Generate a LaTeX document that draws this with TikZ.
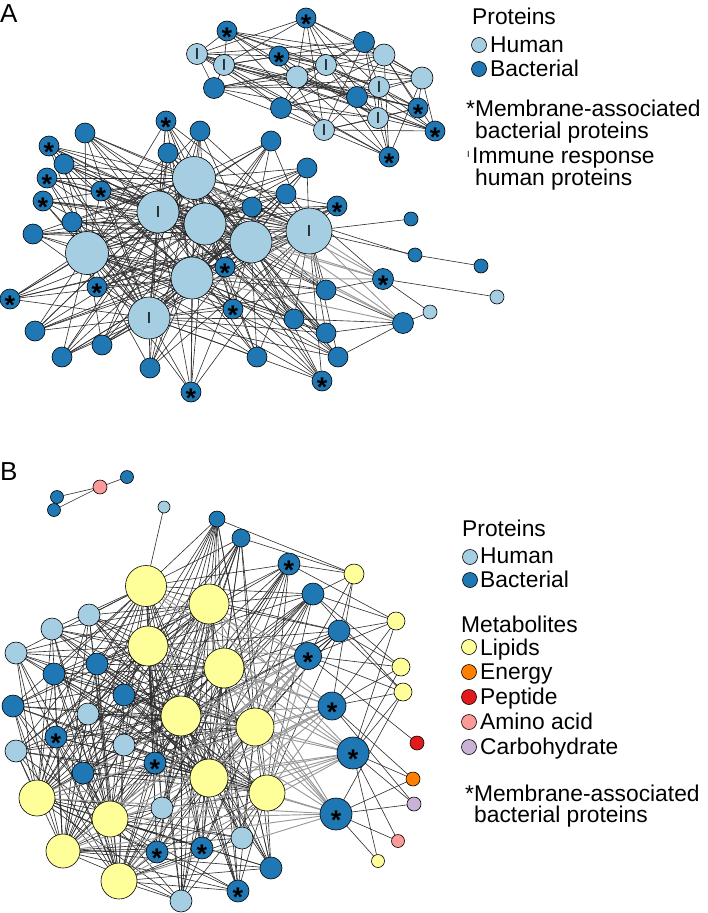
\documentclass[tikz,border=0pt]{standalone}
\usepackage{fontspec}
\setmainfont{Liberation Sans}
\pgfdeclarelayer{edges}
\pgfsetlayers{edges,main}
\definecolor{humc}{HTML}{A6CEE3}
\definecolor{bacc}{HTML}{1F78B4}
\definecolor{yelc}{HTML}{FFFF99}
\definecolor{orgc}{HTML}{FF7F00}
\definecolor{redc}{HTML}{E31A1C}
\definecolor{pnkc}{HTML}{FB9A99}
\definecolor{purc}{HTML}{CAB2D6}
\begin{document}
\begin{tikzpicture}[x=1pt,y=-1pt,
 nd/.style={circle,draw=black,line width=0.6pt,inner sep=0pt,outer sep=0pt},
 hum/.style={nd,fill=humc}, bac/.style={nd,fill=bacc},
 bmem/.style={bac,label={[astk]center:*}},
 himm/.style={hum,label={[imk]center:I}},
 yel/.style={nd,fill=yelc}, org/.style={nd,fill=orgc}, mred/.style={nd,fill=redc},
 pnk/.style={nd,fill=pnkc}, pur/.style={nd,fill=purc},
 astk/.style={font=\fontsize{27}{27}\bfseries, inner sep=0pt, yshift=-5.8pt},
 imk/.style={font=\fontsize{16}{16}\selectfont, inner sep=0pt},
 ed/.style={draw=black!82,line width=0.62pt},
 edg/.style={draw=black!40,line width=0.95pt},
 txt/.style={anchor=base west,inner sep=0pt,font=\fontsize{22.8}{26}\selectfont},
 ttl/.style={anchor=base west,inner sep=0pt,font=\fontsize{26}{30}\selectfont},
 ]
\useasboundingbox (0,0) rectangle (708,913);

% ---------- Panel A nodes ----------
\foreach \nm/\st/\x/\y/\d in {
 t1/bmem/306/18/20, t2/bmem/227/31/20, t3/himm/197/54/21, t4/himm/224/65/21,
 t5/bac/364/42/21, t6/hum/384/55/22, t7/bmem/279/56/20, t8/himm/326/65/21,
 t9/hum/297/77/22, t10/hum/422/78/22, t11/bac/214/88/21, t12/himm/379/87/21,
 t13/bac/357/97/21, t14/bmem/418/108/20, t15/bac/281/108/21, t16/himm/378/118/21,
 t17/bmem/435/131/20, t18/himm/324/130/21, t19/bmem/389/157/20,
 hA1/hum/194/178/43, hA2/himm/158/212/42, hA3/hum/205/224/42, hA4/himm/309/231/46,
 hA5/hum/87/253/43, hA6/hum/251/242/42, hA7/hum/192/278/42, hA8/himm/149/318/42,
 p1/bmem/166/121/20, p2/bac/200/131/20, p3/bac/85/133/20, p4/bac/271/141/20,
 p5/bmem/49/146/20, p6/bac/168/153/20, p7/bac/64/164/20, p8/bac/307/168/20,
 p9/bmem/47/178/20, p10/bmem/101/191/20, p11/bac/286/194/20, p12/bmem/43/201/20,
 p13/bmem/337/206/20, p14/bac/252/207/20, p15/bac/72/222/20, p16/bac/33/234/20,
 p17/bmem/225/267/20, p18/bmem/97/287/20, p19/bmem/383/279/21, p20/bac/326/290/20,
 p21/bmem/10/299/20, p22/bmem/233/309/20, p23/bac/294/319/20, p24/bac/403/323/21,
 p25/bac/35/331/20, p26/bac/326/333/20, p27/bac/102/345/20, p28/bac/62/357/20,
 p29/bac/338/357/20, p30/bac/257/357/20, p31/bac/150/368/20, p32/bmem/322/381/20,
 p33/bmem/191/392/20,
 s1/bac/411/219/14, s2/bac/415/255/14, s3/bac/481/266/14, s4/hum/497/297/14, s5/hum/430/312/14}
 \node[\st,minimum size=\d pt] (\nm) at (\x,\y) {};

% ---------- Panel B nodes ----------
\foreach \nm/\st/\x/\y/\d in {
 q1/pnk/100/487/14, q2/bac/127/477/13, q3/bac/57/497/13, q4/bac/54/510/13,
 L0/hum/164/507/12, B1/bac/217/519/16, B2/bac/241/538/18, B3/bmem/289/564/22,
 y1/yel/354/574/20, Y1/yel/146/586/41, B4/bac/313/594/22, Y2/yel/209/604/40,
 L1/hum/89/615/22, y2/yel/396/621/18, L2/hum/52/629/22, B5/bac/339/631/22,
 Y3/yel/148/646/40, B6/bmem/308/656/27, L3/hum/16/653/22, B7/bac/97/664/22,
 Y4/yel/224/668/40, y3/yel/401/667/18, B8/bac/54/674/22, y4/yel/403/692/18,
 B9/bac/124/695/22, B10/bmem/332/706/28, B11/bac/13/706/22, L4/hum/88/714/22,
 Y5/yel/181/716/40, Y6/yel/255/727/38, B12/bmem/56/737/22, L5/hum/124/745/22,
 r1/mred/417/743/14, L6/hum/16/751/22, B13/bmem/353/753/32, B14/bmem/155/763/22,
 B15/bac/83/773/22, Y7/yel/209/778/38, o1/org/413/779/14, Y8/yel/37/798/36,
 Y9/yel/267/793/36, u1/pur/414/804/14, L7/hum/162/808/22, B16/bmem/336/814/32,
 Y10/yel/110/819/36, L8/hum/242/838/22, k1/pnk/398/841/13, B17/bmem/202/848/22,
 B18/bmem/157/852/22, Y11/yel/63/851/34, y5/yel/378/861/13, B19/bac/271/868/22,
 Y12/yel/119/881/36, B20/bmem/238/891/22, L9/hum/181/901/22}
 \node[\st,minimum size=\d pt] (\nm) at (\x,\y) {};

% ---------- Edges ----------
\begin{pgfonlayer}{edges}
% top cluster of A
\foreach \a in {t3,t4,t6,t8,t9,t10,t12,t16,t18}
 \foreach \b in {t1,t2,t5,t7,t11,t13,t14,t15,t17,t19}
  \draw[ed] (\a) -- (\b);
\foreach \a/\b in {t3/t4,t8/t9,t12/t16,t6/t10,t16/t18}
  \draw[ed] (\a) -- (\b);
% main cluster of A
\foreach \a in {hA1,hA2,hA3,hA4,hA5,hA6,hA7,hA8}
 \foreach \b in {p1,p2,p3,p4,p5,p6,p7,p8,p9,p10,p11,p12,p13,p14,p15,p16,p17,p18,
   p20,p21,p22,p23,p25,p26,p27,p28,p29,p30,p31,p32,p33}
  \draw[ed] (\a) -- (\b);
\foreach \a/\b in {hA1/hA2,hA1/hA3,hA2/hA3,hA3/hA6,hA6/hA4,hA3/hA7,hA2/hA5,hA5/hA8,
  hA7/hA8,hA6/hA7,hA1/hA6,hA2/hA8,hA5/hA7,hA1/hA4}
  \draw[ed] (\a) -- (\b);
\foreach \a in {hA1,hA3,hA4,hA6,hA7}
 \foreach \b in {p19,p24}
  \draw[edg] (\a) -- (\b);
\foreach \a/\b in {p24/p26,p24/p29,p24/p20,p19/p20,p19/p11,p24/p23}
  \draw[ed] (\a) -- (\b);
\draw[ed] (hA4) -- (s1);
\draw[ed] ([yshift=1pt]hA4.east) -- ([yshift=1pt]s2.west);
\draw[ed] (hA4) -- (s2);
\draw[ed] (s2) -- (s3);
\draw[ed] (p19) -- (s4);
\draw[ed] (p19) -- (s5);
\draw[ed] (p24) -- (s5);
% panel B
\draw[ed] (q1) -- (q2); \draw[ed] (q1) -- (q3); \draw[ed] (q1) -- (q4);
\draw[ed] (L0) -- (Y1);
\foreach \a in {Y1,Y2,Y3,Y4,Y5,Y6,Y7,Y8,Y9,Y10,Y11,Y12}
 \foreach \b in {B1,B2,B7,B8,B9,B11,B12,B14,B15,B17,B18,B19,B20,
   L1,L2,L3,L4,L5,L6,L7,L8,L9,B3,B4,B5}
  \draw[ed] (\a) -- (\b);
\foreach \a in {Y1,Y2,Y3,Y4,Y5,Y6,Y7,Y8,Y9,Y10,Y11,Y12}
 \foreach \b in {B6,B10,B13,B16}
  \draw[edg] (\a) -- (\b);
\foreach \a/\b in {y1/B1,y1/B2,y1/B3,y1/B4,y1/B5,y1/B6,y1/B10,
  y2/B3,y2/B4,y2/B5,y2/B6,y2/B10,y2/B13,
  y3/B4,y3/B5,y3/B6,y3/B10,y3/B13,
  y4/B4,y4/B5,y4/B6,y4/B10,y4/B13,y4/B16,
  r1/B6,o1/B10,o1/B13,o1/B16,u1/B10,u1/B13,u1/B16,
  k1/B13,k1/B16,y5/B13,y5/B16}
  \draw[ed] (\a) -- (\b);
\end{pgfonlayer}

% ---------- Panel labels ----------
\node[ttl] (labA) at (0,22) {A};
\node[ttl] (labB) at (0,480) {B};

% ---------- Legend A ----------
\node[txt] (lgAp) at (472,24) {Proteins};
\node[hum,minimum size=15pt] (lgAhc) at (479,45) {};
\node[txt] (lgAh) at (490,52) {Human};
\node[bac,minimum size=15pt] (lgAbc) at (479,69) {};
\node[txt] (lgAb) at (490,76) {Bacterial};
\node[txt] (lgAm) at (466,116) {*Membrane-associated};
\node[txt] (lgAm2) at (475,138) {bacterial proteins};
\node[anchor=base west,inner sep=0pt,font=\fontsize{9}{9}\selectfont] (lgAis) at (467,157) {I};
\node[txt] (lgAi) at (472,163) {Immune response};
\node[txt] (lgAi2) at (475,185) {human proteins};

% ---------- Legend B ----------
\node[txt] (lgBp) at (462,536) {Proteins};
\node[hum,minimum size=15pt] (lgBhc) at (470,557) {};
\node[txt] (lgBh) at (480,563) {Human};
\node[bac,minimum size=15pt] (lgBbc) at (470,580) {};
\node[txt] (lgBb) at (480,587) {Bacterial};
\node[txt] (lgBmt) at (461,632) {Metabolites};
\node[yel,minimum size=15pt] (lgBlc) at (469,647) {};
\node[txt] (lgBl) at (480,655) {Lipids};
\node[org,minimum size=15pt] (lgBec) at (469,672) {};
\node[txt] (lgBe) at (480,679) {Energy};
\node[mred,minimum size=15pt] (lgBpc) at (469,697) {};
\node[txt] (lgBpe) at (480,704) {Peptide};
\node[pnk,minimum size=15pt] (lgBac) at (469,722) {};
\node[txt] (lgBa) at (480,729) {Amino acid};
\node[pur,minimum size=15pt] (lgBcc) at (469,747) {};
\node[txt] (lgBc) at (480,754) {Carbohydrate};
\node[txt] (lgBm) at (465,801) {*Membrane-associated};
\node[txt] (lgBm2) at (474,822) {bacterial proteins};
\end{tikzpicture}
\end{document}
